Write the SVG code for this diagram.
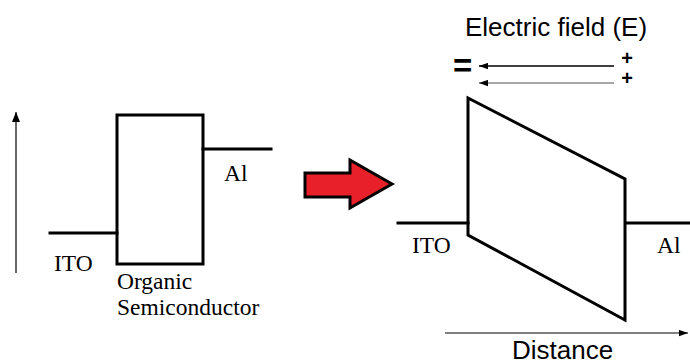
<svg xmlns="http://www.w3.org/2000/svg" width="690" height="364" viewBox="0 0 690 364">
  <style>
    .ln { stroke: #000; stroke-width: 3; fill: none; stroke-linecap: square; }
    .ser { font-family: "Liberation Serif", "Times New Roman", serif; font-size: 23.5px; fill: #000; }
    .sans { font-family: "Liberation Sans", Arial, sans-serif; font-size: 26px; fill: #000; }
    .plus { font-family: "Liberation Sans", Arial, sans-serif; font-size: 20px; font-weight: bold; fill: #000; }
    .thin { stroke-width: 1.5; fill: none; }
  </style>
  <defs>
    <marker id="ah" viewBox="0 0 10 8" refX="10" refY="4" markerWidth="10" markerHeight="8" markerUnits="userSpaceOnUse" orient="auto">
      <path d="M0,0 L10,4 L0,8 Z" fill="#000"/>
    </marker>
    <marker id="ahs" viewBox="0 0 10 7" refX="10" refY="3.5" markerWidth="9" markerHeight="7" markerUnits="userSpaceOnUse" orient="auto">
      <path d="M0,0 L10,3.5 L0,7 Z" fill="#000"/>
    </marker>
  </defs>
  <rect width="690" height="364" fill="#fff"/>

  <g id="left-diagram">
    <rect x="117" y="115" width="86" height="149" class="ln"/>
    <line x1="50" y1="233" x2="117" y2="233" class="ln"/>
    <line x1="203" y1="149" x2="271" y2="149" class="ln"/>
    <text x="224" y="181" class="ser">Al</text>
    <text x="54" y="271" class="ser">ITO</text>
    <text x="117" y="289" class="ser">Organic</text>
    <text x="117" y="315" class="ser">Semiconductor</text>
  </g>

  <g id="red-arrow">
    <polygon points="305,173 350,173 350,160 392,184 350,208 350,197 305,197" fill="#e8202a" stroke="#000" stroke-width="3" stroke-linejoin="miter"/>
  </g>

  <g id="right-diagram">
    <polygon points="468,98 625,179 625,320 468,235" class="ln" stroke-linejoin="miter"/>
    <line x1="398" y1="223" x2="468" y2="223" class="ln"/>
    <line x1="626" y1="223" x2="690" y2="223" class="ln"/>
    <text x="412" y="253" class="ser">ITO</text>
    <text x="657" y="253" class="ser">Al</text>
  </g>

  <g id="field-label">
    <text x="465" y="36" class="sans">Electric field (E)</text>
    <text x="453" y="77" font-family="Liberation Sans, Arial, sans-serif" font-size="33" font-weight="bold" fill="#000">=</text>
    <text x="627" y="65" class="plus" text-anchor="middle">+</text>
    <text x="627" y="85" class="plus" text-anchor="middle">+</text>
  </g>

  <g id="connectors">
    <line x1="16" y1="273" x2="16" y2="112" stroke="#333" class="thin" marker-end="url(#ah)"/>
    <line x1="614" y1="66" x2="479" y2="66" stroke="#000" class="thin" marker-end="url(#ahs)"/>
    <line x1="614" y1="83" x2="479" y2="83" stroke="#888" class="thin" marker-end="url(#ahs)"/>
    <line x1="445" y1="333" x2="688" y2="333" stroke="#555" class="thin" marker-end="url(#ahs)"/>
    <text x="512" y="359" class="sans" font-size="25">Distance</text>
  </g>
</svg>
